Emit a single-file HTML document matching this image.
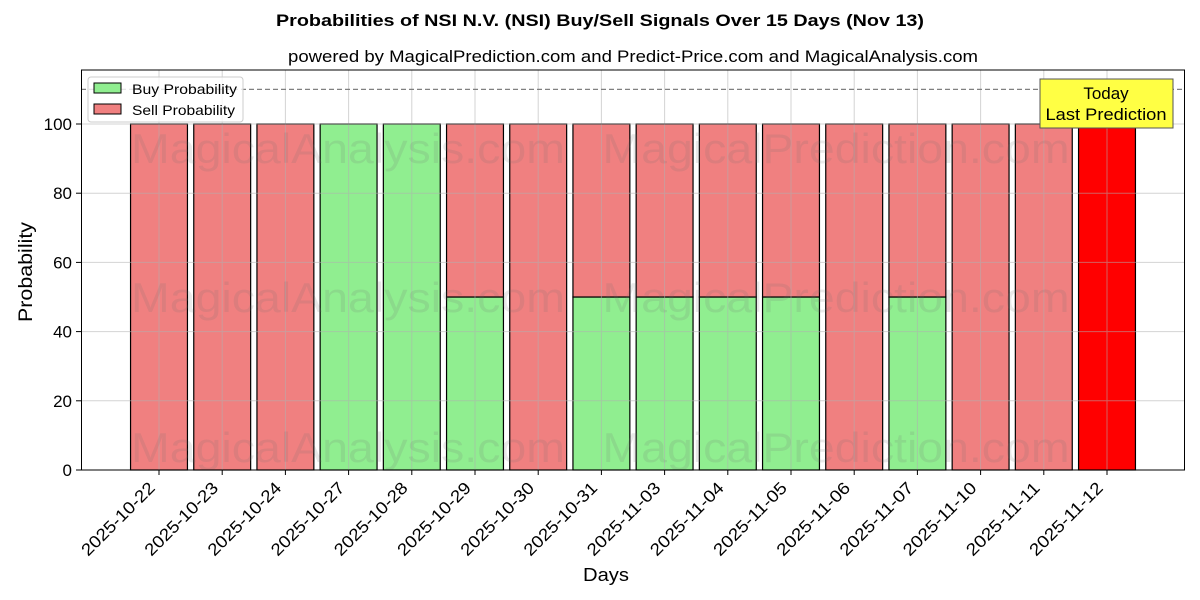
<!DOCTYPE html>
<html><head><meta charset="utf-8"><style>body{margin:0;background:#fff}svg{display:block}text{font-family:"Liberation Sans","DejaVu Sans",sans-serif}</style></head>
<body>
<svg id="s" width="1200" height="600" xmlns="http://www.w3.org/2000/svg">
<rect width="1200" height="600" fill="#fff"/>
<text x="600" y="26" font-size="17" font-weight="bold" text-anchor="middle" textLength="648" lengthAdjust="spacingAndGlyphs">Probabilities of NSI N.V. (NSI) Buy/Sell Signals Over 15 Days (Nov 13)</text>
<text x="633" y="62" font-size="17" text-anchor="middle" textLength="690" lengthAdjust="spacingAndGlyphs">powered by MagicalPrediction.com and Predict-Price.com and MagicalAnalysis.com</text>
<g id="bars"></g>
<g id="grid" stroke="#b0b0b0" stroke-width="1" opacity="0.55"></g>
<g font-size="42" fill="#707070" opacity="0.15" text-anchor="middle">
<text x="348" y="163" textLength="434" lengthAdjust="spacingAndGlyphs">MagicalAnalysis.com</text><text x="836" y="163" textLength="467" lengthAdjust="spacingAndGlyphs">MagicalPrediction.com</text>
<text x="348" y="312" textLength="434" lengthAdjust="spacingAndGlyphs">MagicalAnalysis.com</text><text x="836" y="312" textLength="467" lengthAdjust="spacingAndGlyphs">MagicalPrediction.com</text>
<text x="348" y="462" textLength="434" lengthAdjust="spacingAndGlyphs">MagicalAnalysis.com</text><text x="836" y="462" textLength="467" lengthAdjust="spacingAndGlyphs">MagicalPrediction.com</text>
</g>
<line x1="81" y1="89.4" x2="1185" y2="89.4" stroke="#808080" stroke-width="1.2" stroke-dasharray="5,3"/>
<rect x="81.5" y="70" width="1103" height="400" fill="none" stroke="#000" stroke-width="1"/>
<g id="ticks" font-size="17"></g>
<text x="606" y="581" font-size="18" text-anchor="middle" textLength="46" lengthAdjust="spacingAndGlyphs">Days</text>
<text transform="translate(32,272) rotate(-90)" font-size="19" text-anchor="middle" textLength="100" lengthAdjust="spacingAndGlyphs">Probability</text>
<rect x="88" y="77" width="155" height="45" rx="3" fill="#fff" fill-opacity="0.8" stroke="#ccc"/>
<rect x="94" y="83" width="27" height="10" fill="#90ee90" stroke="#000"/>
<text x="132" y="94" font-size="14" textLength="105" lengthAdjust="spacingAndGlyphs">Buy Probability</text>
<rect x="94" y="104" width="27" height="10" fill="#f08080" stroke="#000"/>
<text x="132" y="115" font-size="14" textLength="103" lengthAdjust="spacingAndGlyphs">Sell Probability</text>
<rect x="1040" y="79" width="133" height="49" fill="#ffff44" stroke="#555"/>
<text x="1106" y="99" font-size="17" text-anchor="middle">Today</text>
<text x="1106" y="120" font-size="17" text-anchor="middle" textLength="121" lengthAdjust="spacingAndGlyphs">Last Prediction</text>
</svg>
<script>
const labels=["2025-10-22","2025-10-23","2025-10-24","2025-10-27","2025-10-28","2025-10-29","2025-10-30","2025-10-31","2025-11-03","2025-11-04","2025-11-05","2025-11-06","2025-11-07","2025-11-10","2025-11-11","2025-11-12"];
const buy=[0,0,0,100,100,50,0,50,50,50,50,0,50,0,0,0];
const ns="http://www.w3.org/2000/svg";
function el(p,t,a,txt){const e=document.createElementNS(ns,t);for(const k in a)e.setAttribute(k,a[k]);if(txt)e.textContent=txt;document.getElementById(p).appendChild(e);}
const Y=v=>470-v*3.46;
labels.forEach((l,i)=>{const c=159+i*63.2,x=c-28.45,w=56.9;const b=buy[i];
 if(b>0)el("bars","rect",{x,y:Y(b),width:w,height:470-Y(b),fill:"#90ee90",stroke:"#000","stroke-width":1.2});
 if(b<100)el("bars","rect",{x,y:Y(100),width:w,height:Y(b)-Y(100),fill:i==15?"#ff0000":"#f08080",stroke:"#000","stroke-width":1.2});
 el("grid","line",{x1:c,y1:70,x2:c,y2:470});
 el("ticks","line",{x1:c,y1:470,x2:c,y2:475,stroke:"#000"});
 el("ticks","text",{x:0,y:0,transform:`translate(${c-3},${489}) rotate(-45)`,"text-anchor":"end",textLength:96,lengthAdjust:"spacingAndGlyphs"},l);
});
[0,20,40,60,80,100].forEach(v=>{const y=Y(v);el("grid","line",{x1:81,y1:y,x2:1185,y2:y});
 el("ticks","line",{x1:76,y1:y,x2:81,y2:y,stroke:"#000"});
 el("ticks","text",{x:72,y:y+6,"text-anchor":"end"},String(v));});
</script>
</body></html>
